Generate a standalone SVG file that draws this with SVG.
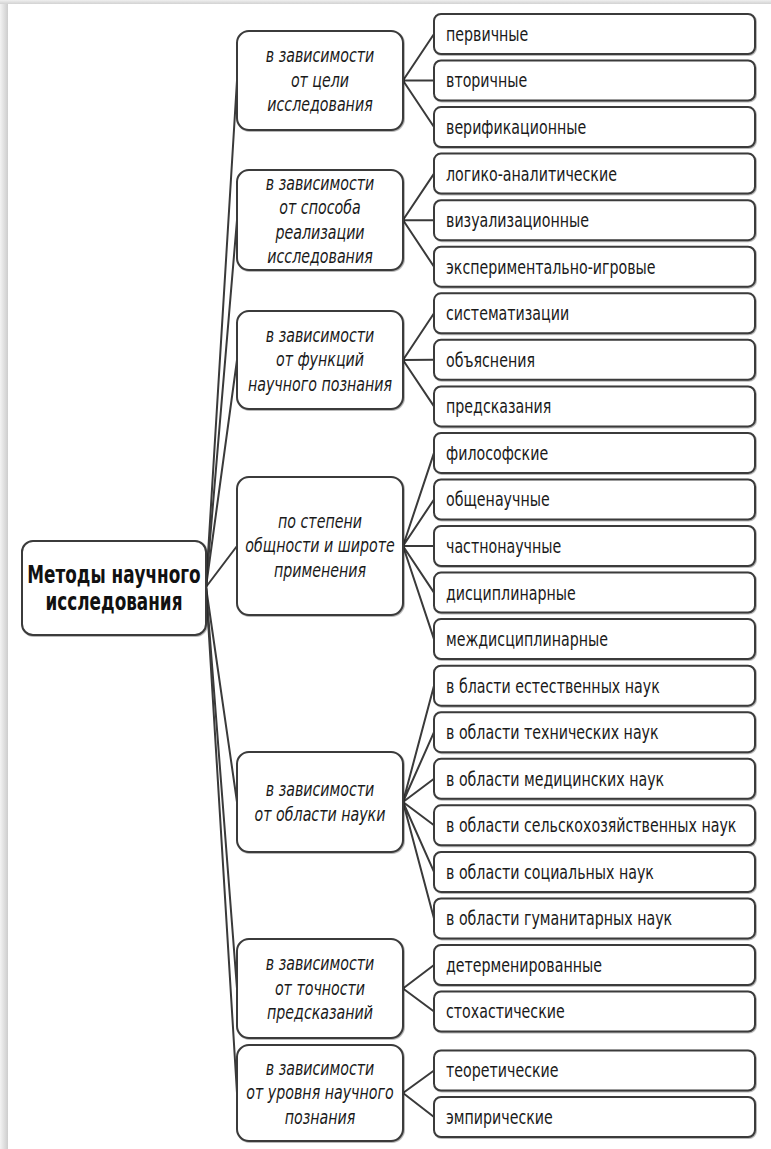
<svg xmlns="http://www.w3.org/2000/svg" width="771" height="1149" viewBox="0 0 771 1149">
  <defs>
    <linearGradient id="edgeLeft" x1="0" y1="0" x2="1" y2="0">
      <stop offset="0" stop-color="#f3f3f3"/>
      <stop offset="1" stop-color="#cdcdcd"/>
    </linearGradient>
    <linearGradient id="edgeTop" x1="0" y1="0" x2="0" y2="1">
      <stop offset="0" stop-color="#efefef"/>
      <stop offset="1" stop-color="#d2d2d2"/>
    </linearGradient>
    <filter id="soft" x="-5%" y="-5%" width="110%" height="115%">
      <feDropShadow dx="0.8" dy="0.8" stdDeviation="0.6" flood-color="#000" flood-opacity="0.35"/>
    </filter>
  </defs>
  <style>
    .box { fill: #ffffff; stroke: #3a3a3a; stroke-width: 2; filter: url(#soft); }
    .link { fill: none; stroke: #3a3a3a; stroke-width: 2; stroke-linecap: round; }
    .leaf { font-family: "Liberation Sans Narrow", "DejaVu Sans Condensed", sans-serif; font-size: 20px; fill: #1a1a1a; }
    .cat { font-family: "Liberation Sans Narrow", "DejaVu Sans Condensed", sans-serif; font-size: 20px; font-style: italic; fill: #1a1a1a; text-anchor: middle; }
    .root { font-family: "Liberation Sans Narrow", "DejaVu Sans Condensed", sans-serif; font-size: 24px; font-weight: bold; fill: #111; text-anchor: middle; }
  </style>

  <!-- page with shaded edges -->
  <rect x="0" y="0" width="771" height="1149" fill="#ffffff"/>
  <rect x="0" y="0" width="8" height="1149" fill="url(#edgeLeft)"/>
  <rect x="0" y="0" width="771" height="4" fill="url(#edgeTop)"/>

  <!-- connectors -->
  <g id="connectors">
    <!-- root to categories -->
    <path class="link" d="M206,587 L237,80.5"/>
    <path class="link" d="M206,587 L237,220"/>
    <path class="link" d="M206,587 L237,360"/>
    <path class="link" d="M206,587 L237,546"/>
    <path class="link" d="M206,587 L237,802"/>
    <path class="link" d="M206,587 L237,988.5"/>
    <path class="link" d="M206,587 L237,1093"/>
    <!-- category 1 -->
    <path class="link" d="M403,80.5 L434,34 M403,80.5 L434,80.5 M403,80.5 L434,127"/>
    <!-- category 2 -->
    <path class="link" d="M403,220 L434,173.6 M403,220 L434,220.2 M403,220 L434,266.7"/>
    <!-- category 3 -->
    <path class="link" d="M403,360 L434,313.3 M403,360 L434,359.8 M403,360 L434,406.4"/>
    <!-- category 4 -->
    <path class="link" d="M403,546 L434,452.9 M403,546 L434,499.5 M403,546 L434,546 M403,546 L434,592.6 M403,546 L434,639.1"/>
    <!-- category 5 -->
    <path class="link" d="M403,802 L434,685.7 M403,802 L434,732.2 M403,802 L434,778.8 M403,802 L434,825.3 M403,802 L434,871.9 M403,802 L434,918.4"/>
    <!-- category 6 -->
    <path class="link" d="M403,988.5 L434,965 M403,988.5 L434,1011.5"/>
    <!-- category 7 -->
    <path class="link" d="M403,1093 L434,1070.5 M403,1093 L434,1117"/>
  </g>

  <!-- root (text narrowed horizontally around its centre line) -->
  <g id="root">
    <rect class="box" x="22" y="541" width="184" height="94" rx="11"/>
    <text class="root" transform="matrix(0.78,0,0,1,114,0)" x="0" y="583">Методы научного</text>
    <text class="root" transform="matrix(0.78,0,0,1,114,0)" x="0" y="610">исследования</text>
  </g>

  <!-- categories -->
  <g id="cat1">
    <rect class="box" x="237" y="31" width="166" height="99" rx="12"/>
    <text class="cat" transform="matrix(0.79,0,0,1,320,0)" x="0" y="62.5">в зависимости</text>
    <text class="cat" transform="matrix(0.79,0,0,1,320,0)" x="0" y="87">от цели</text>
    <text class="cat" transform="matrix(0.79,0,0,1,320,0)" x="0" y="111.5">исследования</text>
  </g>
  <g id="cat2">
    <rect class="box" x="237" y="170" width="166" height="100" rx="12"/>
    <text class="cat" transform="matrix(0.79,0,0,1,320,0)" x="0" y="189.7">в зависимости</text>
    <text class="cat" transform="matrix(0.79,0,0,1,320,0)" x="0" y="214.2">от способа</text>
    <text class="cat" transform="matrix(0.79,0,0,1,320,0)" x="0" y="238.7">реализации</text>
    <text class="cat" transform="matrix(0.79,0,0,1,320,0)" x="0" y="263.2">исследования</text>
  </g>
  <g id="cat3">
    <rect class="box" x="237" y="311" width="166" height="98" rx="12"/>
    <text class="cat" transform="matrix(0.79,0,0,1,320,0)" x="0" y="342">в зависимости</text>
    <text class="cat" transform="matrix(0.79,0,0,1,320,0)" x="0" y="366.5">от функций</text>
    <text class="cat" transform="matrix(0.79,0,0,1,320,0)" x="0" y="391">научного познания</text>
  </g>
  <g id="cat4">
    <rect class="box" x="237" y="477" width="166" height="138" rx="12"/>
    <text class="cat" transform="matrix(0.79,0,0,1,320,0)" x="0" y="528">по степени</text>
    <text class="cat" transform="matrix(0.79,0,0,1,320,0)" x="0" y="552.5">общности и широте</text>
    <text class="cat" transform="matrix(0.79,0,0,1,320,0)" x="0" y="577">применения</text>
  </g>
  <g id="cat5">
    <rect class="box" x="237" y="752" width="166" height="100" rx="12"/>
    <text class="cat" transform="matrix(0.79,0,0,1,320,0)" x="0" y="796.2">в зависимости</text>
    <text class="cat" transform="matrix(0.79,0,0,1,320,0)" x="0" y="820.7">от области науки</text>
  </g>
  <g id="cat6">
    <rect class="box" x="237" y="939" width="166" height="99" rx="12"/>
    <text class="cat" transform="matrix(0.79,0,0,1,320,0)" x="0" y="970.5">в зависимости</text>
    <text class="cat" transform="matrix(0.79,0,0,1,320,0)" x="0" y="995">от точности</text>
    <text class="cat" transform="matrix(0.79,0,0,1,320,0)" x="0" y="1019.5">предсказаний</text>
  </g>
  <g id="cat7">
    <rect class="box" x="237" y="1045" width="166" height="96" rx="12"/>
    <text class="cat" transform="matrix(0.79,0,0,1,320,0)" x="0" y="1075">в зависимости</text>
    <text class="cat" transform="matrix(0.79,0,0,1,320,0)" x="0" y="1099.5">от уровня научного</text>
    <text class="cat" transform="matrix(0.79,0,0,1,320,0)" x="0" y="1124">познания</text>
  </g>

  <!-- leaves (text narrowed horizontally from its left edge) -->
  <g id="leaf01"><rect class="box" x="434" y="14" width="321" height="40" rx="7"/><text class="leaf" transform="matrix(0.79,0,0,1,446,0)" x="0" y="41">первичные</text></g>
  <g id="leaf02"><rect class="box" x="434" y="60.5" width="321" height="40" rx="7"/><text class="leaf" transform="matrix(0.79,0,0,1,446,0)" x="0" y="87.5">вторичные</text></g>
  <g id="leaf03"><rect class="box" x="434" y="107.1" width="321" height="40" rx="7"/><text class="leaf" transform="matrix(0.79,0,0,1,446,0)" x="0" y="134.1">верификационные</text></g>
  <g id="leaf04"><rect class="box" x="434" y="153.6" width="321" height="40" rx="7"/><text class="leaf" transform="matrix(0.79,0,0,1,446,0)" x="0" y="180.6">логико-аналитические</text></g>
  <g id="leaf05"><rect class="box" x="434" y="200.2" width="321" height="40" rx="7"/><text class="leaf" transform="matrix(0.79,0,0,1,446,0)" x="0" y="227.2">визуализационные</text></g>
  <g id="leaf06"><rect class="box" x="434" y="246.7" width="321" height="40" rx="7"/><text class="leaf" transform="matrix(0.79,0,0,1,446,0)" x="0" y="273.7">экспериментально-игровые</text></g>
  <g id="leaf07"><rect class="box" x="434" y="293.3" width="321" height="40" rx="7"/><text class="leaf" transform="matrix(0.79,0,0,1,446,0)" x="0" y="320.3">систематизации</text></g>
  <g id="leaf08"><rect class="box" x="434" y="339.8" width="321" height="40" rx="7"/><text class="leaf" transform="matrix(0.79,0,0,1,446,0)" x="0" y="366.8">объяснения</text></g>
  <g id="leaf09"><rect class="box" x="434" y="386.4" width="321" height="40" rx="7"/><text class="leaf" transform="matrix(0.79,0,0,1,446,0)" x="0" y="413.4">предсказания</text></g>
  <g id="leaf10"><rect class="box" x="434" y="432.9" width="321" height="40" rx="7"/><text class="leaf" transform="matrix(0.79,0,0,1,446,0)" x="0" y="459.9">философские</text></g>
  <g id="leaf11"><rect class="box" x="434" y="479.5" width="321" height="40" rx="7"/><text class="leaf" transform="matrix(0.79,0,0,1,446,0)" x="0" y="506.5">общенаучные</text></g>
  <g id="leaf12"><rect class="box" x="434" y="526" width="321" height="40" rx="7"/><text class="leaf" transform="matrix(0.79,0,0,1,446,0)" x="0" y="553">частнонаучные</text></g>
  <g id="leaf13"><rect class="box" x="434" y="572.6" width="321" height="40" rx="7"/><text class="leaf" transform="matrix(0.79,0,0,1,446,0)" x="0" y="599.6">дисциплинарные</text></g>
  <g id="leaf14"><rect class="box" x="434" y="619.1" width="321" height="40" rx="7"/><text class="leaf" transform="matrix(0.79,0,0,1,446,0)" x="0" y="646.1">междисциплинарные</text></g>
  <g id="leaf15"><rect class="box" x="434" y="665.7" width="321" height="40" rx="7"/><text class="leaf" transform="matrix(0.79,0,0,1,446,0)" x="0" y="692.7">в бласти естественных наук</text></g>
  <g id="leaf16"><rect class="box" x="434" y="712.2" width="321" height="40" rx="7"/><text class="leaf" transform="matrix(0.79,0,0,1,446,0)" x="0" y="739.2">в области технических наук</text></g>
  <g id="leaf17"><rect class="box" x="434" y="758.8" width="321" height="40" rx="7"/><text class="leaf" transform="matrix(0.79,0,0,1,446,0)" x="0" y="785.8">в области медицинских наук</text></g>
  <g id="leaf18"><rect class="box" x="434" y="805.3" width="321" height="40" rx="7"/><text class="leaf" transform="matrix(0.79,0,0,1,446,0)" x="0" y="832.3">в области сельскохозяйственных наук</text></g>
  <g id="leaf19"><rect class="box" x="434" y="851.9" width="321" height="40" rx="7"/><text class="leaf" transform="matrix(0.79,0,0,1,446,0)" x="0" y="878.9">в области социальных наук</text></g>
  <g id="leaf20"><rect class="box" x="434" y="898.4" width="321" height="40" rx="7"/><text class="leaf" transform="matrix(0.79,0,0,1,446,0)" x="0" y="925.4">в области гуманитарных наук</text></g>
  <g id="leaf21"><rect class="box" x="434" y="945" width="321" height="40" rx="7"/><text class="leaf" transform="matrix(0.79,0,0,1,446,0)" x="0" y="972">детерменированные</text></g>
  <g id="leaf22"><rect class="box" x="434" y="991.5" width="321" height="40" rx="7"/><text class="leaf" transform="matrix(0.79,0,0,1,446,0)" x="0" y="1018.5">стохастические</text></g>
  <g id="leaf23"><rect class="box" x="434" y="1050.5" width="321" height="40" rx="7"/><text class="leaf" transform="matrix(0.79,0,0,1,446,0)" x="0" y="1077.5">теоретические</text></g>
  <g id="leaf24"><rect class="box" x="434" y="1097" width="321" height="40" rx="7"/><text class="leaf" transform="matrix(0.79,0,0,1,446,0)" x="0" y="1124">эмпирические</text></g>
</svg>
